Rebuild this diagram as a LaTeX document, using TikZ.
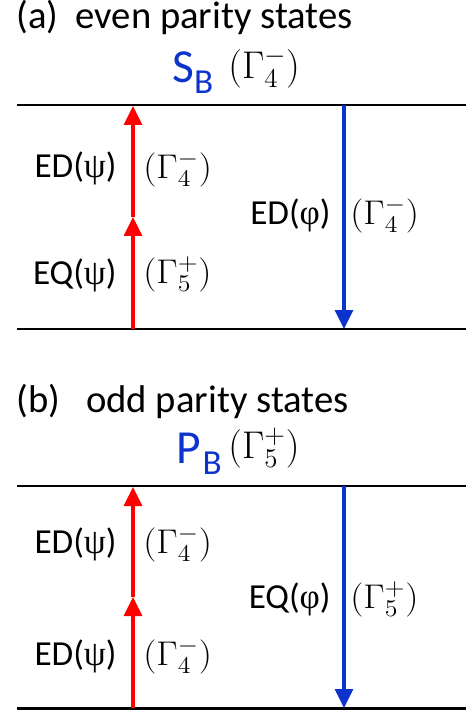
\documentclass[tikz,border=0pt]{standalone}
\usepackage{fix-cm}
\usepackage{fontspec}
\setmainfont{Carlito}
\newfontfamily\greekfont{Liberation Serif}
\usepackage{xcolor}
\definecolor{upred}{RGB}{255,0,0}
\definecolor{downblue}{RGB}{12,52,205}
\usetikzlibrary{arrows.meta,positioning}
\newcommand{\gpsi}{{\greekfont ψ}}
\newcommand{\gphi}{{\greekfont φ}}
\newcommand{\irr}[1]{\scalebox{1.08}[1]{$#1$}}

\begin{document}
\begin{tikzpicture}[
    x=0.02cm, y=-0.02cm,
    level/.style={draw=black, line width=1.2pt},
    upline/.style={draw=upred, line width=1.8pt, -{Triangle[length=0.38cm,width=0.36cm]}},
    downline/.style={draw=downblue, line width=1.8pt, -{Triangle[length=0.38cm,width=0.36cm]}},
    panel/.style={anchor=base west, inner sep=0pt, font=\fontsize{22}{26}\selectfont},
    statename/.style={anchor=base west, inner sep=0pt, text=downblue, font=\fontsize{27}{30}\selectfont},
    stateirrep/.style={anchor=base west, inner sep=0pt, font=\fontsize{22}{26}\selectfont},
    trans/.style={anchor=base east, inner sep=0pt, font=\fontsize{20}{24}\selectfont},
    irrep/.style={anchor=base west, inner sep=0pt, font=\fontsize{19.5}{23}\selectfont}
  ]
    \useasboundingbox (0,0) rectangle (466,710);

    % Panel (a) - even parity states
    \node [panel] (titleA) at (16,29) {(a)\ \ even parity states};
    \node [statename] (stateA) at (172,82) {S\raisebox{-6.5pt}{\fontsize{20}{20}\selectfont B}};
    \node [stateirrep] (irrepA) at (228,78) {$(\Gamma_4^-)$};

    \coordinate (topA) at (17,105);
    \coordinate (topAend) at (466,105);
    \coordinate (botA) at (17,329);
    \coordinate (botAend) at (466,329);
    \coordinate (redA0) at (133,329);
    \coordinate (redA1) at (133,217);
    \coordinate (redA2) at (133,106);
    \coordinate (blueA0) at (344,105);
    \coordinate (blueA1) at (344,329);

    \node [trans] (edA) at (117,177) {ED(\gpsi)};
    \node [irrep] (edAsym) at (143,178) {\irr{(\Gamma_4^-)}};
    \node [trans] (eqA) at (117,284) {EQ(\gpsi)};
    \node [irrep] (eqAsym) at (143,283) {\irr{(\Gamma_5^+)}};
    \node [trans] (emA) at (331,224) {ED(\gphi)};
    \node [irrep] (emAsym) at (350,224) {\irr{(\Gamma_4^-)}};

    % Panel (b) - odd parity states
    \node [panel] (titleB) at (16,412) {(b)\ \ \ odd parity states};
    \node [statename] (stateB) at (176,463) {P\hspace{1pt}\raisebox{-6.8pt}{\fontsize{20}{20}\selectfont B}};
    \node [stateirrep] (irrepB) at (228,458) {$(\Gamma_5^+)$};

    \coordinate (topB) at (17,486);
    \coordinate (topBend) at (466,486);
    \coordinate (botB) at (17,708);
    \coordinate (botBend) at (466,708);
    \coordinate (redB0) at (133,708);
    \coordinate (redB1) at (133,597);
    \coordinate (redB2) at (133,487);
    \coordinate (blueB0) at (344,486);
    \coordinate (blueB1) at (344,708);

    \node [trans] (edB) at (117,553) {ED(\gpsi)};
    \node [irrep] (edBsym) at (143,553) {\irr{(\Gamma_4^-)}};
    \node [trans] (edB2) at (117,665) {ED(\gpsi)};
    \node [irrep] (edB2sym) at (143,665) {\irr{(\Gamma_4^-)}};
    \node [trans] (emB) at (331,608) {EQ(\gphi)};
    \node [irrep] (emBsym) at (350,608) {\irr{(\Gamma_5^+)}};

    % Levels
    \path [level] (topA) -- (topAend);
    \path [level] (botA) -- (botAend);
    \path [level] (topB) -- (topBend);
    \path [level, line width=1.7pt] (botB) -- (botBend);

    % Transitions
    \path [upline] (redA0) -- (redA1);
    \path [upline] (redA1) -- (redA2);
    \path [downline] (blueA0) -- (blueA1);
    \path [upline] (redB0) -- (redB1);
    \path [upline] (redB1) -- (redB2);
    \path [downline] (blueB0) -- (blueB1);

\end{tikzpicture}
\end{document}
